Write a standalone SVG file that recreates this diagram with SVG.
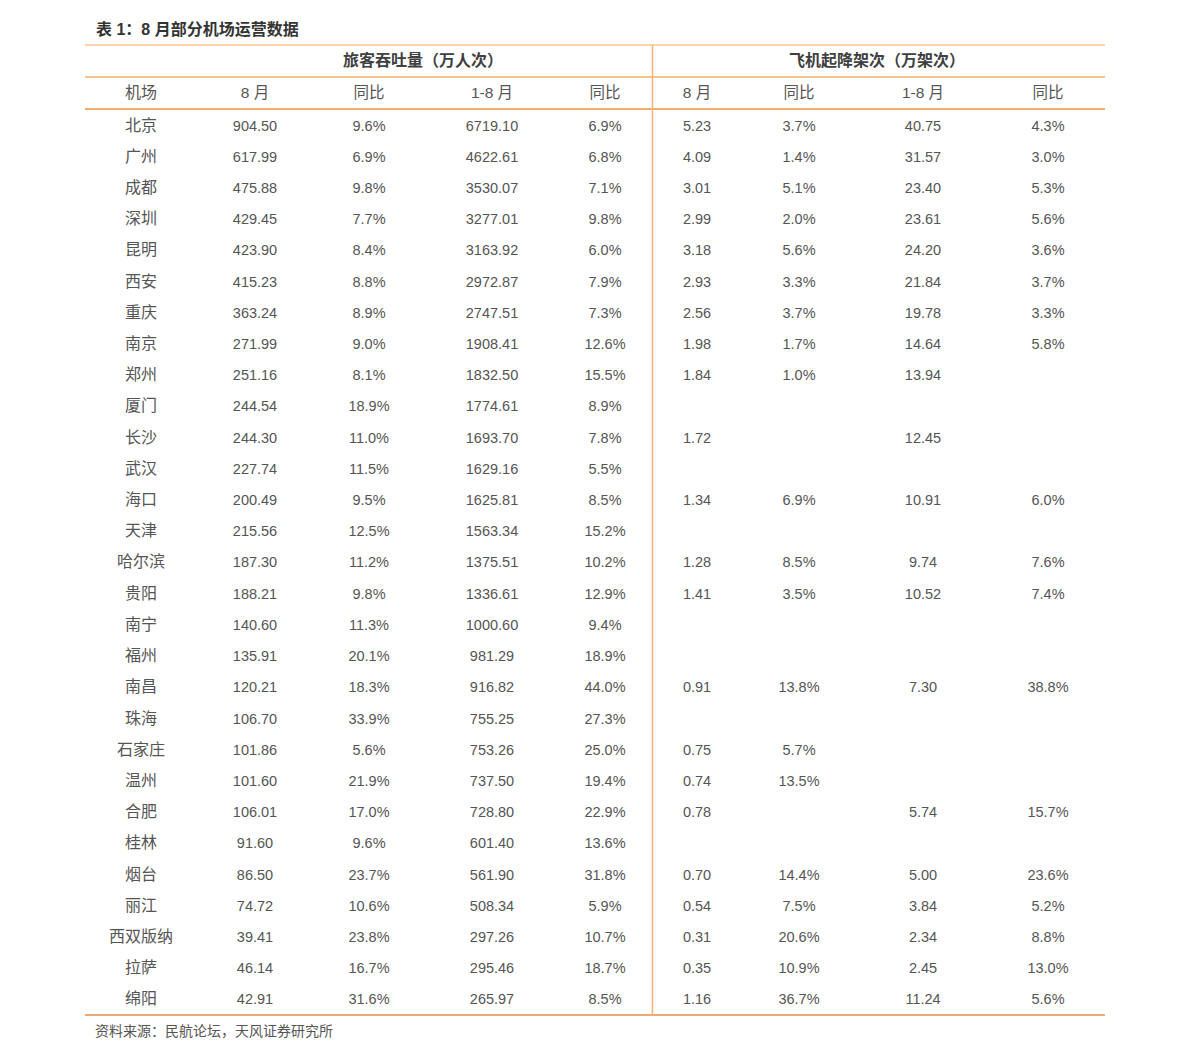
<svg xmlns="http://www.w3.org/2000/svg" width="1191" height="1059" viewBox="0 0 1191 1059">
<style>
text{text-anchor:middle;fill:#555;font-family:"Liberation Sans","Noto Sans CJK SC",sans-serif}
.c{font-size:16px;font-family:"Noto Sans CJK SC",sans-serif}
.n{font-size:14.5px}
.h1{font-size:16px;font-weight:bold;fill:#404040;font-family:"Noto Sans CJK SC",sans-serif}
.h2{font-size:15.5px}
.t{font-size:16px;font-weight:bold;fill:#333;text-anchor:start}
.f{font-size:14px;fill:#555;text-anchor:start;font-family:"Noto Sans CJK SC",sans-serif}
</style>
<rect width="1191" height="1059" fill="#fff"/>
<text id="title" class="t" x="96" y="35">表 1：8 月部分机场运营数据</text>
<g id="lines" fill="none">
<line x1="85" y1="45" x2="1105" y2="45" stroke="#F9C593" stroke-width="1.5"/>
<line x1="85" y1="77" x2="1105" y2="77" stroke="#F6AE6C" stroke-width="1.5"/>
<line x1="85" y1="109" x2="1105" y2="109" stroke="#F0913F" stroke-width="1.5"/>
<line x1="85" y1="1015" x2="1105" y2="1015" stroke="#EE8E44" stroke-width="1.5"/>
<line x1="652.5" y1="45" x2="652.5" y2="1015" stroke="#F7B47A" stroke-width="1.5"/>
</g>
<g id="header1">
<text class="h1" x="423" y="66">旅客吞吐量（万人次）</text>
<text class="h1" x="877" y="66">飞机起降架次（万架次）</text>
</g>
<g id="header2" transform="translate(0,92)">
<text class="c" x="141" y="5.5">机场</text>
<text class="h2" x="255" y="5.5">8 月</text>
<text class="h2" x="369" y="5.5">同比</text>
<text class="h2" x="492" y="5.5">1-8 月</text>
<text class="h2" x="605" y="5.5">同比</text>
<text class="h2" x="697" y="5.5">8 月</text>
<text class="h2" x="799" y="5.5">同比</text>
<text class="h2" x="923" y="5.5">1-8 月</text>
<text class="h2" x="1048" y="5.5">同比</text>
</g>
<g id="r0" transform="translate(0,125)"><text class="c" x="141" y="5.5">北京</text><text class="n" x="255" y="5.5">904.50</text><text class="n" x="369" y="5.5">9.6%</text><text class="n" x="492" y="5.5">6719.10</text><text class="n" x="605" y="5.5">6.9%</text><text class="n" x="697" y="5.5">5.23</text><text class="n" x="799" y="5.5">3.7%</text><text class="n" x="923" y="5.5">40.75</text><text class="n" x="1048" y="5.5">4.3%</text></g>
<g id="r1" transform="translate(0,156.2)"><text class="c" x="141" y="5.5">广州</text><text class="n" x="255" y="5.5">617.99</text><text class="n" x="369" y="5.5">6.9%</text><text class="n" x="492" y="5.5">4622.61</text><text class="n" x="605" y="5.5">6.8%</text><text class="n" x="697" y="5.5">4.09</text><text class="n" x="799" y="5.5">1.4%</text><text class="n" x="923" y="5.5">31.57</text><text class="n" x="1048" y="5.5">3.0%</text></g>
<g id="r2" transform="translate(0,187.4)"><text class="c" x="141" y="5.5">成都</text><text class="n" x="255" y="5.5">475.88</text><text class="n" x="369" y="5.5">9.8%</text><text class="n" x="492" y="5.5">3530.07</text><text class="n" x="605" y="5.5">7.1%</text><text class="n" x="697" y="5.5">3.01</text><text class="n" x="799" y="5.5">5.1%</text><text class="n" x="923" y="5.5">23.40</text><text class="n" x="1048" y="5.5">5.3%</text></g>
<g id="r3" transform="translate(0,218.6)"><text class="c" x="141" y="5.5">深圳</text><text class="n" x="255" y="5.5">429.45</text><text class="n" x="369" y="5.5">7.7%</text><text class="n" x="492" y="5.5">3277.01</text><text class="n" x="605" y="5.5">9.8%</text><text class="n" x="697" y="5.5">2.99</text><text class="n" x="799" y="5.5">2.0%</text><text class="n" x="923" y="5.5">23.61</text><text class="n" x="1048" y="5.5">5.6%</text></g>
<g id="r4" transform="translate(0,249.8)"><text class="c" x="141" y="5.5">昆明</text><text class="n" x="255" y="5.5">423.90</text><text class="n" x="369" y="5.5">8.4%</text><text class="n" x="492" y="5.5">3163.92</text><text class="n" x="605" y="5.5">6.0%</text><text class="n" x="697" y="5.5">3.18</text><text class="n" x="799" y="5.5">5.6%</text><text class="n" x="923" y="5.5">24.20</text><text class="n" x="1048" y="5.5">3.6%</text></g>
<g id="r5" transform="translate(0,281.1)"><text class="c" x="141" y="5.5">西安</text><text class="n" x="255" y="5.5">415.23</text><text class="n" x="369" y="5.5">8.8%</text><text class="n" x="492" y="5.5">2972.87</text><text class="n" x="605" y="5.5">7.9%</text><text class="n" x="697" y="5.5">2.93</text><text class="n" x="799" y="5.5">3.3%</text><text class="n" x="923" y="5.5">21.84</text><text class="n" x="1048" y="5.5">3.7%</text></g>
<g id="r6" transform="translate(0,312.3)"><text class="c" x="141" y="5.5">重庆</text><text class="n" x="255" y="5.5">363.24</text><text class="n" x="369" y="5.5">8.9%</text><text class="n" x="492" y="5.5">2747.51</text><text class="n" x="605" y="5.5">7.3%</text><text class="n" x="697" y="5.5">2.56</text><text class="n" x="799" y="5.5">3.7%</text><text class="n" x="923" y="5.5">19.78</text><text class="n" x="1048" y="5.5">3.3%</text></g>
<g id="r7" transform="translate(0,343.5)"><text class="c" x="141" y="5.5">南京</text><text class="n" x="255" y="5.5">271.99</text><text class="n" x="369" y="5.5">9.0%</text><text class="n" x="492" y="5.5">1908.41</text><text class="n" x="605" y="5.5">12.6%</text><text class="n" x="697" y="5.5">1.98</text><text class="n" x="799" y="5.5">1.7%</text><text class="n" x="923" y="5.5">14.64</text><text class="n" x="1048" y="5.5">5.8%</text></g>
<g id="r8" transform="translate(0,374.7)"><text class="c" x="141" y="5.5">郑州</text><text class="n" x="255" y="5.5">251.16</text><text class="n" x="369" y="5.5">8.1%</text><text class="n" x="492" y="5.5">1832.50</text><text class="n" x="605" y="5.5">15.5%</text><text class="n" x="697" y="5.5">1.84</text><text class="n" x="799" y="5.5">1.0%</text><text class="n" x="923" y="5.5">13.94</text></g>
<g id="r9" transform="translate(0,405.9)"><text class="c" x="141" y="5.5">厦门</text><text class="n" x="255" y="5.5">244.54</text><text class="n" x="369" y="5.5">18.9%</text><text class="n" x="492" y="5.5">1774.61</text><text class="n" x="605" y="5.5">8.9%</text></g>
<g id="r10" transform="translate(0,437.1)"><text class="c" x="141" y="5.5">长沙</text><text class="n" x="255" y="5.5">244.30</text><text class="n" x="369" y="5.5">11.0%</text><text class="n" x="492" y="5.5">1693.70</text><text class="n" x="605" y="5.5">7.8%</text><text class="n" x="697" y="5.5">1.72</text><text class="n" x="923" y="5.5">12.45</text></g>
<g id="r11" transform="translate(0,468.3)"><text class="c" x="141" y="5.5">武汉</text><text class="n" x="255" y="5.5">227.74</text><text class="n" x="369" y="5.5">11.5%</text><text class="n" x="492" y="5.5">1629.16</text><text class="n" x="605" y="5.5">5.5%</text></g>
<g id="r12" transform="translate(0,499.5)"><text class="c" x="141" y="5.5">海口</text><text class="n" x="255" y="5.5">200.49</text><text class="n" x="369" y="5.5">9.5%</text><text class="n" x="492" y="5.5">1625.81</text><text class="n" x="605" y="5.5">8.5%</text><text class="n" x="697" y="5.5">1.34</text><text class="n" x="799" y="5.5">6.9%</text><text class="n" x="923" y="5.5">10.91</text><text class="n" x="1048" y="5.5">6.0%</text></g>
<g id="r13" transform="translate(0,530.7)"><text class="c" x="141" y="5.5">天津</text><text class="n" x="255" y="5.5">215.56</text><text class="n" x="369" y="5.5">12.5%</text><text class="n" x="492" y="5.5">1563.34</text><text class="n" x="605" y="5.5">15.2%</text></g>
<g id="r14" transform="translate(0,561.9)"><text class="c" x="141" y="5.5">哈尔滨</text><text class="n" x="255" y="5.5">187.30</text><text class="n" x="369" y="5.5">11.2%</text><text class="n" x="492" y="5.5">1375.51</text><text class="n" x="605" y="5.5">10.2%</text><text class="n" x="697" y="5.5">1.28</text><text class="n" x="799" y="5.5">8.5%</text><text class="n" x="923" y="5.5">9.74</text><text class="n" x="1048" y="5.5">7.6%</text></g>
<g id="r15" transform="translate(0,593.2)"><text class="c" x="141" y="5.5">贵阳</text><text class="n" x="255" y="5.5">188.21</text><text class="n" x="369" y="5.5">9.8%</text><text class="n" x="492" y="5.5">1336.61</text><text class="n" x="605" y="5.5">12.9%</text><text class="n" x="697" y="5.5">1.41</text><text class="n" x="799" y="5.5">3.5%</text><text class="n" x="923" y="5.5">10.52</text><text class="n" x="1048" y="5.5">7.4%</text></g>
<g id="r16" transform="translate(0,624.4)"><text class="c" x="141" y="5.5">南宁</text><text class="n" x="255" y="5.5">140.60</text><text class="n" x="369" y="5.5">11.3%</text><text class="n" x="492" y="5.5">1000.60</text><text class="n" x="605" y="5.5">9.4%</text></g>
<g id="r17" transform="translate(0,655.6)"><text class="c" x="141" y="5.5">福州</text><text class="n" x="255" y="5.5">135.91</text><text class="n" x="369" y="5.5">20.1%</text><text class="n" x="492" y="5.5">981.29</text><text class="n" x="605" y="5.5">18.9%</text></g>
<g id="r18" transform="translate(0,686.8)"><text class="c" x="141" y="5.5">南昌</text><text class="n" x="255" y="5.5">120.21</text><text class="n" x="369" y="5.5">18.3%</text><text class="n" x="492" y="5.5">916.82</text><text class="n" x="605" y="5.5">44.0%</text><text class="n" x="697" y="5.5">0.91</text><text class="n" x="799" y="5.5">13.8%</text><text class="n" x="923" y="5.5">7.30</text><text class="n" x="1048" y="5.5">38.8%</text></g>
<g id="r19" transform="translate(0,718)"><text class="c" x="141" y="5.5">珠海</text><text class="n" x="255" y="5.5">106.70</text><text class="n" x="369" y="5.5">33.9%</text><text class="n" x="492" y="5.5">755.25</text><text class="n" x="605" y="5.5">27.3%</text></g>
<g id="r20" transform="translate(0,749.2)"><text class="c" x="141" y="5.5">石家庄</text><text class="n" x="255" y="5.5">101.86</text><text class="n" x="369" y="5.5">5.6%</text><text class="n" x="492" y="5.5">753.26</text><text class="n" x="605" y="5.5">25.0%</text><text class="n" x="697" y="5.5">0.75</text><text class="n" x="799" y="5.5">5.7%</text></g>
<g id="r21" transform="translate(0,780.4)"><text class="c" x="141" y="5.5">温州</text><text class="n" x="255" y="5.5">101.60</text><text class="n" x="369" y="5.5">21.9%</text><text class="n" x="492" y="5.5">737.50</text><text class="n" x="605" y="5.5">19.4%</text><text class="n" x="697" y="5.5">0.74</text><text class="n" x="799" y="5.5">13.5%</text></g>
<g id="r22" transform="translate(0,811.6)"><text class="c" x="141" y="5.5">合肥</text><text class="n" x="255" y="5.5">106.01</text><text class="n" x="369" y="5.5">17.0%</text><text class="n" x="492" y="5.5">728.80</text><text class="n" x="605" y="5.5">22.9%</text><text class="n" x="697" y="5.5">0.78</text><text class="n" x="923" y="5.5">5.74</text><text class="n" x="1048" y="5.5">15.7%</text></g>
<g id="r23" transform="translate(0,842.8)"><text class="c" x="141" y="5.5">桂林</text><text class="n" x="255" y="5.5">91.60</text><text class="n" x="369" y="5.5">9.6%</text><text class="n" x="492" y="5.5">601.40</text><text class="n" x="605" y="5.5">13.6%</text></g>
<g id="r24" transform="translate(0,874)"><text class="c" x="141" y="5.5">烟台</text><text class="n" x="255" y="5.5">86.50</text><text class="n" x="369" y="5.5">23.7%</text><text class="n" x="492" y="5.5">561.90</text><text class="n" x="605" y="5.5">31.8%</text><text class="n" x="697" y="5.5">0.70</text><text class="n" x="799" y="5.5">14.4%</text><text class="n" x="923" y="5.5">5.00</text><text class="n" x="1048" y="5.5">23.6%</text></g>
<g id="r25" transform="translate(0,905.3)"><text class="c" x="141" y="5.5">丽江</text><text class="n" x="255" y="5.5">74.72</text><text class="n" x="369" y="5.5">10.6%</text><text class="n" x="492" y="5.5">508.34</text><text class="n" x="605" y="5.5">5.9%</text><text class="n" x="697" y="5.5">0.54</text><text class="n" x="799" y="5.5">7.5%</text><text class="n" x="923" y="5.5">3.84</text><text class="n" x="1048" y="5.5">5.2%</text></g>
<g id="r26" transform="translate(0,936.5)"><text class="c" x="141" y="5.5">西双版纳</text><text class="n" x="255" y="5.5">39.41</text><text class="n" x="369" y="5.5">23.8%</text><text class="n" x="492" y="5.5">297.26</text><text class="n" x="605" y="5.5">10.7%</text><text class="n" x="697" y="5.5">0.31</text><text class="n" x="799" y="5.5">20.6%</text><text class="n" x="923" y="5.5">2.34</text><text class="n" x="1048" y="5.5">8.8%</text></g>
<g id="r27" transform="translate(0,967.7)"><text class="c" x="141" y="5.5">拉萨</text><text class="n" x="255" y="5.5">46.14</text><text class="n" x="369" y="5.5">16.7%</text><text class="n" x="492" y="5.5">295.46</text><text class="n" x="605" y="5.5">18.7%</text><text class="n" x="697" y="5.5">0.35</text><text class="n" x="799" y="5.5">10.9%</text><text class="n" x="923" y="5.5">2.45</text><text class="n" x="1048" y="5.5">13.0%</text></g>
<g id="r28" transform="translate(0,998.9)"><text class="c" x="141" y="5.5">绵阳</text><text class="n" x="255" y="5.5">42.91</text><text class="n" x="369" y="5.5">31.6%</text><text class="n" x="492" y="5.5">265.97</text><text class="n" x="605" y="5.5">8.5%</text><text class="n" x="697" y="5.5">1.16</text><text class="n" x="799" y="5.5">36.7%</text><text class="n" x="923" y="5.5">11.24</text><text class="n" x="1048" y="5.5">5.6%</text></g>
<text id="source" class="f" x="95" y="1036">资料来源：民航论坛，天风证券研究所</text>
</svg>
